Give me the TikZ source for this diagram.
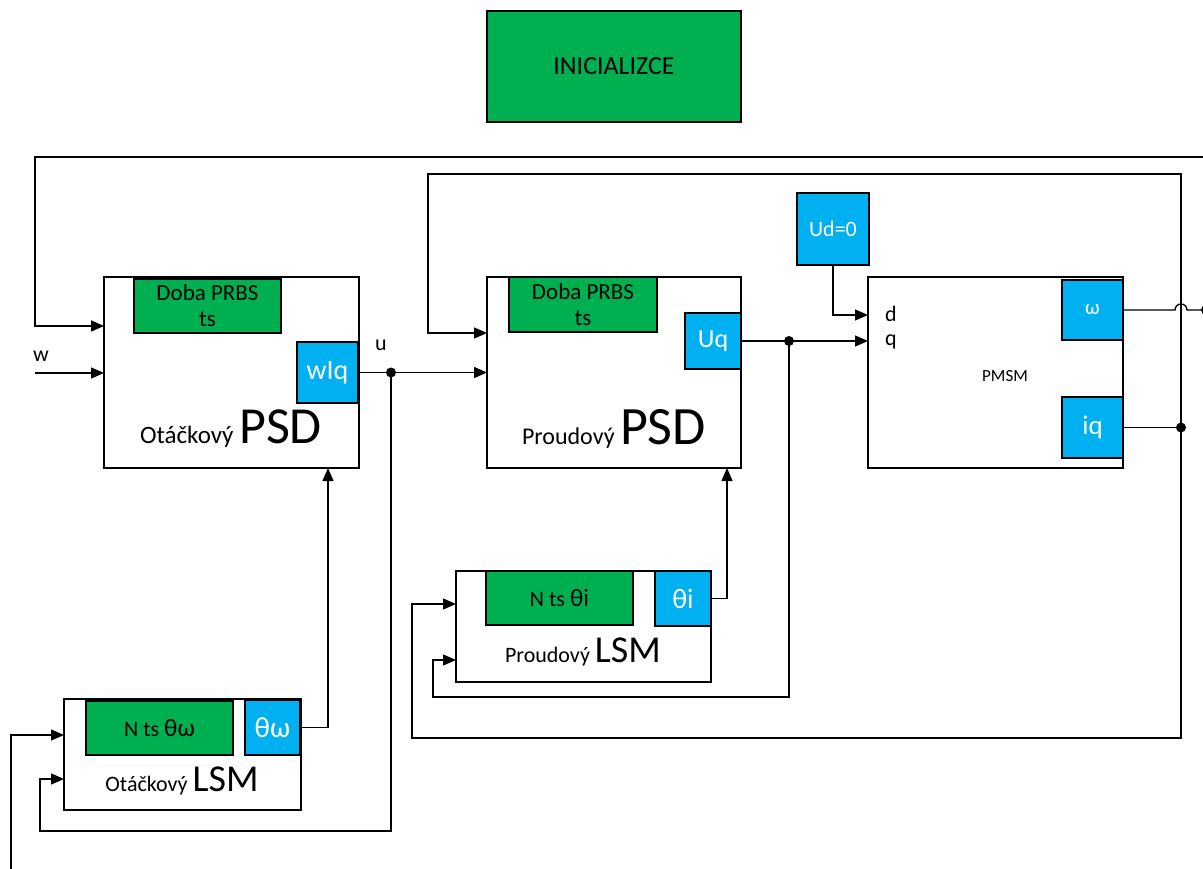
\documentclass[tikz,border=0pt]{standalone}
\usepackage{fontspec}
\setmainfont{Carlito}
\usetikzlibrary{arrows.meta}
\definecolor{blkgreen}{HTML}{00B050}
\definecolor{blkblue}{HTML}{00B0F0}
\newcommand{\fsz}[1]{\fontsize{#1}{#1}\selectfont}

\begin{document}
\begin{tikzpicture}[x=1pt,y=-1pt,
  box/.style={draw, line width=1.3pt, anchor=north west, inner sep=0pt, outer sep=0pt, fill=white},
  gbox/.style={box, fill=blkgreen, align=center, font=\fontsize{23}{26}\selectfont},
  bbox/.style={box, fill=blkblue, text=white, font=\fsz{26}},
  wire/.style={line width=1.3pt},
  arr/.style={wire, -{Triangle[length=13pt,width=11pt]}},
  jdot/.style={fill=black},
  lbl/.style={inner sep=0pt, font=\fsz{22}}
]
\fill[white] (0,0) rectangle (1203,869);
\useasboundingbox (0,0) rectangle (1203,869);

% initialisation block
\node[box, fill=blkgreen, minimum width=254pt, minimum height=111pt, font=\fsz{26}] (init) at (487,11) {INICIALIZCE};

% speed controller
\node[box, minimum width=255pt, minimum height=191pt] (spsd) at (104,277) {};
\node[gbox, minimum width=147pt, minimum height=54pt] (sprbs) at (134,279) {Doba PRBS\\ts};
\node[bbox, minimum width=61pt, minimum height=61pt, font=\fsz{28}] (swiq) at (297,342) {wIq};
\node[anchor=base, inner sep=0pt, font=\fsz{25}] (spsdtxt) at (231,443) {Otáčkový {\fsz{52}PSD}};

% current controller
\node[box, minimum width=254pt, minimum height=191pt] (cpsd) at (487,277) {};
\node[gbox, minimum width=148pt, minimum height=55pt] (cprbs) at (509,277) {Doba PRBS\\ts};
\node[bbox, minimum width=56pt, minimum height=56pt] (cuq) at (685,313) {Uq};
\node[anchor=base, inner sep=0pt, font=\fsz{24}] (cpsdtxt) at (614,444) {Proudový {\fsz{54}PSD}};

% motor
\node[bbox, minimum width=72pt, minimum height=72pt, font=\fsz{22}] (ud) at (797,193) {Ud=0};
\node[box, minimum width=255pt, minimum height=191pt] (pmsm) at (868,277) {};
\node[inner sep=0pt, font=\fsz{17}] (pmsmtxt) at (1005,376) {PMSM};
\node[bbox, minimum width=61pt, minimum height=60pt, font=\fsz{21}] (om) at (1062,280) {ω};
\node[bbox, minimum width=61pt, minimum height=61pt, font=\fsz{27}] (iq) at (1062,397) {iq};
\node[lbl, anchor=base west] (dlbl) at (885,321) {d};
\node[lbl, anchor=base west] (qlbl) at (885,345) {q};

% speed identification
\node[box, minimum width=237pt, minimum height=111pt] (slsm) at (64,699) {};
\node[gbox, minimum width=147pt, minimum height=54pt, font=\fsz{22}] (sn) at (86,701) {N ts {\fsz{25}θω}};
\node[bbox, minimum width=55pt, minimum height=55pt, font=\fsz{29}] (sth) at (245,700) {θω};
\node[anchor=base, inner sep=0pt, font=\fsz{22}] (slsmtxt) at (182,791) {Otáčkový {\fsz{38}LSM}};

% current identification
\node[box, minimum width=255pt, minimum height=111pt] (clsm) at (456,571) {};
\node[gbox, minimum width=147pt, minimum height=54pt, font=\fsz{22}] (cn) at (486,571) {N ts {\fsz{25}θi}};
\node[bbox, minimum width=56pt, minimum height=55pt, font=\fsz{28}] (cth) at (655,571) {θi};
\node[anchor=base, inner sep=0pt, font=\fsz{22}] (clsmtxt) at (583,662) {Proudový {\fsz{38}LSM}};

% free ends and junctions
\coordinate (wfb) at (1203,157);
\coordinate (win) at (35,373);
\coordinate (lin) at (11,869);
\coordinate (ujn) at (391,372.5);
\coordinate (uqj) at (789,341);
\coordinate (iqj) at (1181,427.5);
\coordinate (wout) at (1206,310);

\node[lbl, anchor=base west] (wlbl) at (33,361) {w};
\node[lbl, anchor=base west] (ulbl) at (375,350) {u};

% outer speed loop
\draw[arr] (wfb) -- (35,157) -- (35,326) -- (spsd.west |- 0,326);
\draw[arr] (win) -- (spsd.west |- win);
\draw[arr] (swiq.east) -- (cpsd.west |- swiq.east);
\draw[arr] (ujn) -- (391,831) -- (40,831) -- (40,779) -- (slsm.west |- 0,779);
\draw[arr] (lin) -- (11,735) -- (slsm.west |- 0,735);
\draw[arr] (sth.east) -| (spsd.south -| 328,0);

% inner current loop
\draw[arr] (cuq.east) -- (pmsm.west |- cuq.east);
\draw[arr] (uqj) -- (789,697) -- (433,697) -- (433,660) -- (clsm.west |- 0,660);
\draw[arr] (cth.east) -| (cpsd.south -| 727,0);
\draw[arr] (ud.south) |- (pmsm.west |- 0,315);
\draw[wire] (iq.east) -- (iqj);
\draw[arr] (iqj) -- (1181,174) -- (428,174) -- (428,333) -- (cpsd.west |- 0,333);
\draw[arr] (iqj) -- (1181,738) -- (412,738) -- (412,604) -- (clsm.west |- 0,604);

% speed output with a hop over the current feedback line
\draw[wire] (om.east) -- (1175,310) arc (180:360:6) -- (wout);

% junction dots
\fill[jdot] (ujn) circle (5);
\fill[jdot] (uqj) circle (5);
\fill[jdot] (iqj) circle (5);
\fill[jdot] (wout) circle (5);
\end{tikzpicture}
\end{document}
